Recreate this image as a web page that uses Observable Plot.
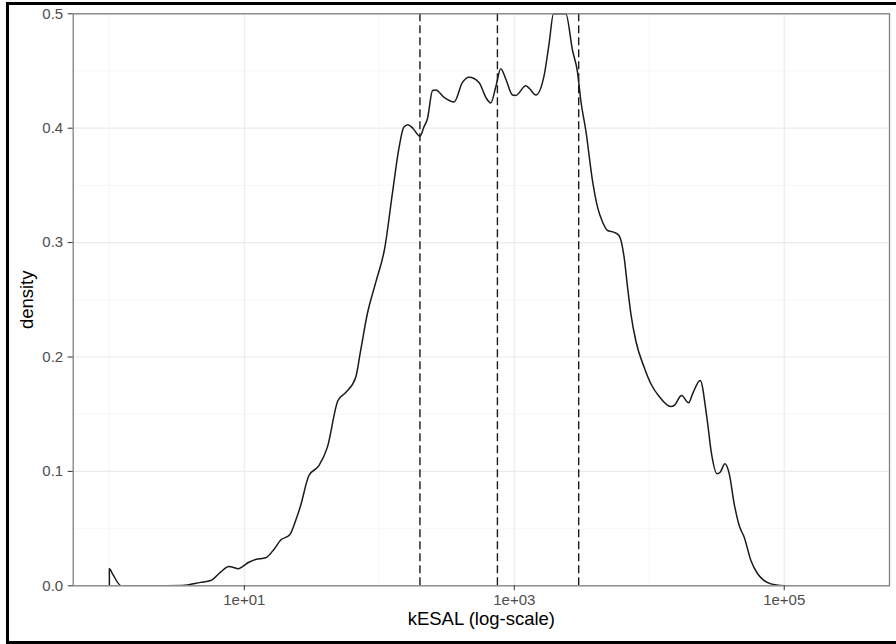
<!DOCTYPE html>
<html>
<head>
<meta charset="utf-8">
<script src="https://cdn.jsdelivr.net/npm/d3@7"></script>
<script src="https://cdn.jsdelivr.net/npm/@observablehq/plot@0.6"></script>
<style>
  html, body { margin: 0; padding: 0; background: #fff; overflow: hidden; }
  #wrap { position: relative; width: 896px; height: 644px; overflow: hidden; }
  #outer { position: absolute; left: 6px; top: 2px; width: 2000px; height: 636px;
           border: 3px solid #000; border-right: none; pointer-events: none; }
  #chart { position: absolute; left: 0; top: 0; }
</style>
</head>
<body>
<div id="wrap"><div id="chart"></div><div id="outer"></div></div>
<script>
// kESAL values (x, log scale) and density values
const kesal = [1.0, 1.0, 1.06, 1.225, 2.02, 3.47, 4.74, 5.62, 6.67, 7.69, 8.97, 10.8, 12.1, 14.4, 16.6, 18.6,
  21.7, 24.0, 26.1, 30.1, 35.7, 41.2, 49.4, 56.4, 66.8, 72.8, 81.6, 94.0, 110, 125, 140, 152, 163, 177,
  200, 214, 227, 248, 262, 302, 358, 413, 462, 548, 615, 670, 729, 794, 865, 970, 1026, 1217, 1288,
  1443, 1663, 1811, 1953, 2409, 2700, 2941, 3112, 3389, 3799, 4139, 4507, 4909, 5494, 5983, 6515, 6905,
  7305, 7956, 9167, 10277, 11839, 14456, 15295, 17354, 19556, 20941, 23844, 26730, 28960, 31703, 33541,
  36342, 39120, 42596, 46389, 50522, 56637, 63506, 71072, 79663, 100000];
const density = [0.0, 0.015, 0.010, 0.0, 0.0, 0.0003, 0.003, 0.0046, 0.012, 0.0169, 0.0150, 0.0206, 0.023, 0.0245, 0.032, 0.040,
  0.0446, 0.057, 0.070, 0.0964, 0.105, 0.121, 0.162, 0.169, 0.182, 0.206, 0.238, 0.265, 0.296, 0.343, 0.383, 0.401, 0.403, 0.400,
  0.393, 0.401, 0.408, 0.433, 0.4335, 0.427, 0.423, 0.440, 0.4446, 0.440, 0.427, 0.422, 0.436, 0.452, 0.443, 0.429, 0.4286, 0.437, 0.435,
  0.429, 0.446, 0.474, 0.5, 0.5, 0.468, 0.449, 0.424, 0.398, 0.354, 0.331, 0.318, 0.3106, 0.309, 0.306, 0.287, 0.261,
  0.238, 0.214, 0.191, 0.1766, 0.1655, 0.1567, 0.1576, 0.1663, 0.160, 0.1678, 0.1795, 0.147, 0.115, 0.098, 0.0993,
  0.1066, 0.098, 0.0717, 0.0527, 0.0425, 0.0221, 0.0105, 0.0046, 0.0017, 0.0];
// quantile lines (dashed)
const quantiles = [200, 750, 3000];
// axis ticks
const xMajor = [10, 1000, 100000];
const xTickLabels = ["1e+01", "1e+03", "1e+05"];
const xMinor = [1, 100, 10000];
const yMajor = [0, 0.1, 0.2, 0.3, 0.4, 0.5];
const yMinor = [0.05, 0.15, 0.25, 0.35, 0.45];
const xLabel = "kESAL (log-scale)";
const yLabel = "density";

const data = kesal.map((k, i) => ({k, d: density[i]}));

const chart = Plot.plot({
  width: 896,
  height: 644,
  marginTop: 13.3,
  marginBottom: 58.7,
  marginLeft: 72.7,
  marginRight: 7,
  style: {fontFamily: "'Liberation Sans', Arial, sans-serif", fontSize: "15px", background: "transparent", overflow: "visible"},
  x: {type: "log", domain: [Math.pow(10, -0.268), Math.pow(10, 5.78)]},
  y: {domain: [0, 0.5]},
  marks: [
    Plot.ruleX(xMinor, {stroke: "#F4F4F4", strokeWidth: 0.8}),
    Plot.ruleY(yMinor, {stroke: "#F4F4F4", strokeWidth: 0.8}),
    Plot.ruleX(xMajor, {stroke: "#EBEBEB", strokeWidth: 1.2}),
    Plot.ruleY(yMajor, {stroke: "#EBEBEB", strokeWidth: 1.2}),
    Plot.line(data, {x: "k", y: "d", stroke: "#1a1a1a", strokeWidth: 1.5, curve: "monotone-x", clip: true}),
    Plot.ruleX(quantiles, {stroke: "#1a1a1a", strokeWidth: 1.4, strokeDasharray: "8,4"}),
    Plot.frame({stroke: "#808080", strokeWidth: 1.3}),
    Plot.axisX(xMajor, {tickSize: 5, tickPadding: 4, stroke: "#333",
      fill: "#4D4D4D", tickFormat: d => xTickLabels[xMajor.indexOf(d)], label: null}),
    Plot.axisY(yMajor, {tickSize: 5, tickPadding: 5, stroke: "#333",
      fill: "#4D4D4D", tickFormat: d3.format(".1f"), label: null}),
    Plot.text([xLabel], {text: d => d, frameAnchor: "bottom", dy: 38.8, fontSize: 18.5,
      fill: "#000", textAnchor: "middle"}),
    Plot.text([yLabel], {text: d => d, frameAnchor: "left", rotate: -90, dx: -46.5, fontSize: 18.5,
      fill: "#000", textAnchor: "middle"})
  ]
});
document.getElementById("chart").appendChild(chart);
</script>
</body>
</html>
